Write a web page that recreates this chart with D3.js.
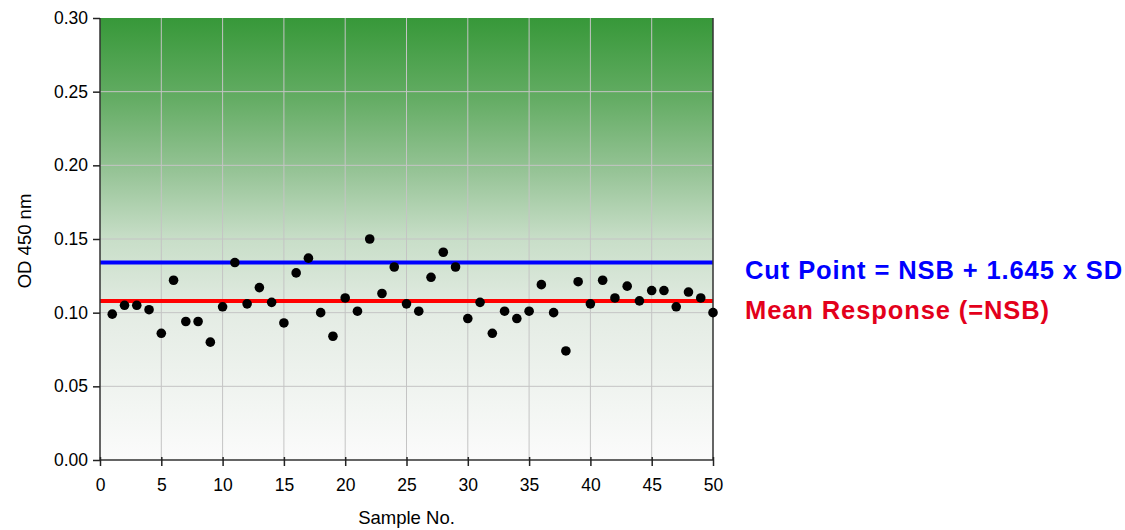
<!DOCTYPE html>
<html>
<head>
<meta charset="utf-8">
<script src="https://cdn.jsdelivr.net/npm/d3@7"></script>
<style>
body { margin: 0; background: #fff; }
svg text { font-family: "Liberation Sans", Arial, sans-serif; }
</style>
</head>
<body>
<svg id="chart" width="1125" height="530"></svg>
<script>
// sample numbers and OD readings
var samples = d3.range(1, 51);
var od = [0.099, 0.105, 0.105, 0.102, 0.086, 0.122, 0.094, 0.094, 0.080, 0.104,
          0.134, 0.106, 0.117, 0.107, 0.093, 0.127, 0.137, 0.100, 0.084, 0.110,
          0.101, 0.150, 0.113, 0.131, 0.106, 0.101, 0.124, 0.141, 0.131, 0.096,
          0.107, 0.086, 0.101, 0.096, 0.101, 0.119, 0.100, 0.074, 0.121, 0.106,
          0.122, 0.110, 0.118, 0.108, 0.115, 0.115, 0.104, 0.114, 0.110, 0.100];
var cutPoint = 0.134;
var meanResponse = 0.108;
var xTicks = [0, 5, 10, 15, 20, 25, 30, 35, 40, 45, 50];
var yTicks = [0, 0.05, 0.10, 0.15, 0.20, 0.25, 0.30];

var margin = {top: 18, left: 100, right: 412, bottom: 70};
var svg = d3.select("#chart");
var width = 1125 - margin.left - margin.right;
var height = 530 - margin.top - margin.bottom;

var x = d3.scaleLinear().domain([0, 50]).range([0, width]);
var y = d3.scaleLinear().domain([0, 0.30]).range([height, 0]);

var defs = svg.append("defs");
var grad = defs.append("linearGradient").attr("id", "bg").attr("x1", 0).attr("y1", 0).attr("x2", 0).attr("y2", 1);
grad.append("stop").attr("offset", "0%").attr("stop-color", "#379839");
grad.append("stop").attr("offset", "18%").attr("stop-color", "#63ac63");
grad.append("stop").attr("offset", "35%").attr("stop-color", "#97c497");
grad.append("stop").attr("offset", "50%").attr("stop-color", "#c8dec8");
grad.append("stop").attr("offset", "67%").attr("stop-color", "#e4ece4");
grad.append("stop").attr("offset", "100%").attr("stop-color", "#fbfbfb");

var g = svg.append("g").attr("transform", "translate(" + margin.left + "," + margin.top + ")");

g.append("rect").attr("width", width).attr("height", height).attr("fill", "url(#bg)");

// grid
g.selectAll(".vgrid").data(xTicks.slice(1, -1)).enter().append("line")
    .attr("x1", function(d) { return x(d); }).attr("x2", function(d) { return x(d); })
    .attr("y1", 0).attr("y2", height)
    .attr("stroke", "#c4c4c4").attr("stroke-width", 1);
g.selectAll(".hgrid").data(yTicks.slice(1, -1)).enter().append("line")
    .attr("x1", 0).attr("x2", width)
    .attr("y1", function(d) { return y(d); }).attr("y2", function(d) { return y(d); })
    .attr("stroke", "#c4c4c4").attr("stroke-width", 1);

// reference lines
g.append("line").attr("x1", 0).attr("x2", width)
    .attr("y1", y(cutPoint)).attr("y2", y(cutPoint))
    .attr("stroke", "#0000ff").attr("stroke-width", 4);
g.append("line").attr("x1", 0).attr("x2", width)
    .attr("y1", y(meanResponse)).attr("y2", y(meanResponse))
    .attr("stroke", "#ff0000").attr("stroke-width", 4);

// frame
g.append("path").attr("d", "M0,0V" + height + "H" + width + "V0")
    .attr("fill", "none").attr("stroke", "#333").attr("stroke-width", 1.5);

// axes
var xAxis = g.append("g").attr("transform", "translate(0," + height + ")")
    .call(d3.axisBottom(x).tickValues(xTicks).tickSize(6).tickSizeOuter(0).tickPadding(13));
var yAxis = g.append("g")
    .call(d3.axisLeft(y).tickValues(yTicks).tickFormat(d3.format(".2f")).tickSize(7).tickSizeOuter(0).tickPadding(5));
[xAxis, yAxis].forEach(function(a) {
    a.select(".domain").remove();
    a.selectAll(".tick line").attr("stroke", "#222").attr("stroke-width", 1.5);
    a.selectAll(".tick text").attr("font-size", 17.5).attr("fill", "#000")
        .style("font-family", "'Liberation Sans', Arial, sans-serif");
});
xAxis.selectAll(".tick line").attr("y1", -3);

// points
g.selectAll(".pt").data(od).enter().append("circle")
    .attr("cx", function(d, i) { return x(samples[i]); })
    .attr("cy", function(d) { return y(d); })
    .attr("r", 4.8).attr("fill", "#000");

// titles
svg.append("text").attr("x", margin.left + width / 2).attr("y", 524)
    .attr("text-anchor", "middle").attr("font-size", 18.5).text("Sample No.");
svg.append("text").attr("transform", "translate(31," + (margin.top + height / 2 + 2) + ") rotate(-90)")
    .attr("text-anchor", "middle").attr("font-size", 18.5).text("OD 450 nm");

// legend
svg.append("text").attr("x", 745).attr("y", 279).attr("font-size", 25.5).attr("font-weight", "bold")
    .attr("letter-spacing", 0.9).attr("fill", "#0000ff").text("Cut Point = NSB + 1.645 x SD");
svg.append("text").attr("x", 745).attr("y", 319).attr("font-size", 25.5).attr("font-weight", "bold")
    .attr("letter-spacing", 0.9).attr("fill", "#e3001b").text("Mean Response (=NSB)");
</script>
</body>
</html>
